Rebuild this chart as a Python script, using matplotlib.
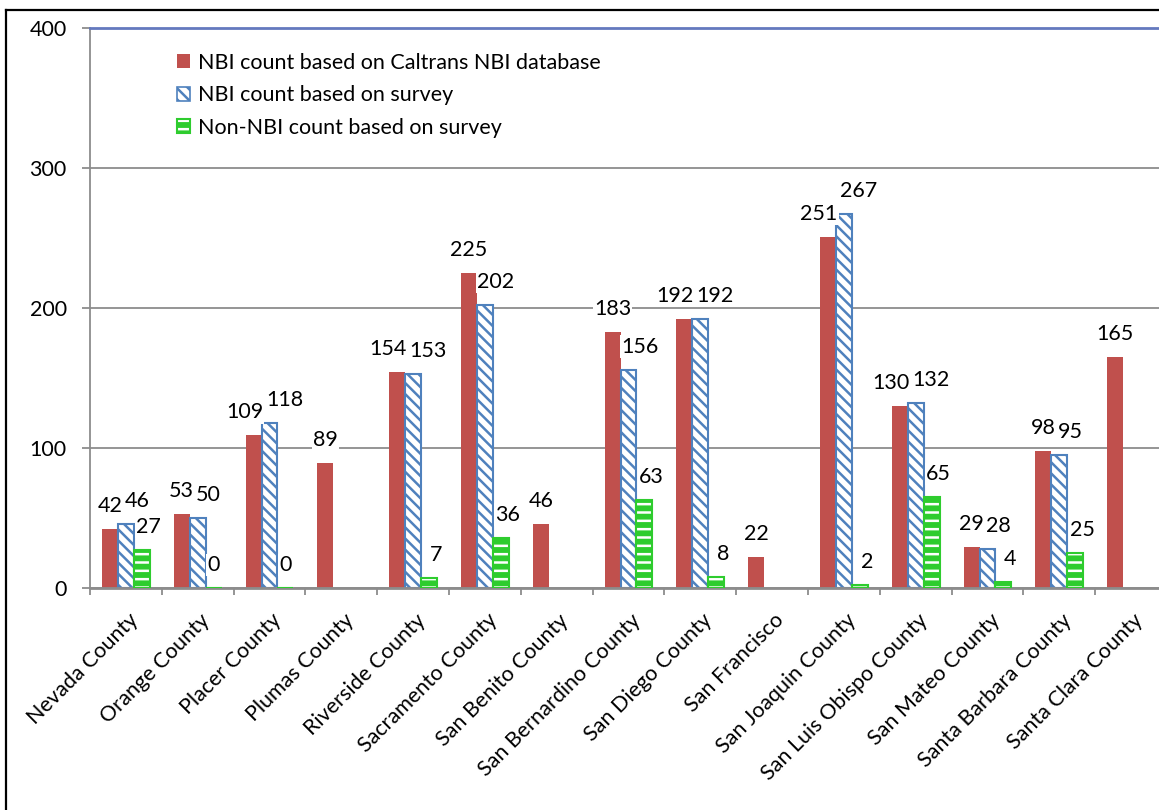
import numpy as np
import matplotlib.pyplot as plt
import matplotlib.transforms as mtrans
from matplotlib.patches import Patch
from matplotlib.lines import Line2D

plt.rcParams['font.family'] = ['Lato', 'DejaVu Sans']
plt.rcParams['hatch.linewidth'] = 1.8

counties = ["Nevada County", "Orange County", "Placer County", "Plumas County",
            "Riverside County", "Sacramento County", "San Benito County",
            "San Bernardino County", "San Diego County", "San Francisco",
            "San Joaquin County", "San Luis Obispo County", "San Mateo County",
            "Santa Barbara County", "Santa Clara County"]
nan = np.nan
caltrans_nbi = [42, 53, 109, 89, 154, 225, 46, 183, 192, 22, 251, 130, 29, 98, 165]
survey_nbi = [46, 50, 118, nan, 153, 202, nan, 156, 192, nan, 267, 132, 28, 95, nan]
survey_non_nbi = [27, 0, 0, nan, 7, 36, nan, 63, 8, nan, 2, 65, 4, 25, nan]

legend_labels = ["NBI count based on Caltrans NBI database",
                 "NBI count based on survey",
                 "Non-NBI count based on survey"]

RED = "#C0504D"
BLUE = "#4F81BD"
GREEN = "#2ECC2E"
GRID = "#8C8C8C"
FS = 15.5

W, H = 1159, 810
fig = plt.figure(figsize=(W / 100, H / 100), dpi=100)
ax = fig.add_axes([90 / W, (H - 588) / H, (1167 - 90) / W, (588 - 28) / H])

x = np.arange(len(counties))
bw = 0.222

ax.bar(x - bw, caltrans_nbi, bw, color=RED, zorder=2)
ax.bar(x, survey_nbi, bw, facecolor="white", edgecolor=BLUE, hatch="\\\\\\",
       linewidth=1.5, zorder=2)
# green bars: white stripes on green, then a green outline on top
ax.bar(x + bw, survey_non_nbi, bw, facecolor=GREEN, edgecolor="white",
       hatch="--", linewidth=0, zorder=2)
ax.bar(x + bw, survey_non_nbi, bw, fill=False, edgecolor=GREEN,
       linewidth=1.5, zorder=3)


def put_label(xpos, v, dx):
    ax.annotate(f"{v:.0f}", (xpos, v), xytext=(dx, 23),
                textcoords="offset pixels", ha="center", va="center",
                fontsize=FS, zorder=5,
                bbox=dict(facecolor="white", edgecolor="none", pad=1))


# value labels; red/blue pairs at nearly equal height are spread apart
for xi, r, b, g in zip(x, caltrans_nbi, survey_nbi, survey_non_nbi):
    dx_red, dx_blue = 0, 11
    if not np.isnan(b) and r >= 100 and abs(r - b) * 1.4 < 25:
        dx_red, dx_blue = -9, 15
    put_label(xi - bw, r, dx_red)
    if not np.isnan(b):
        put_label(xi, b, dx_blue)
    if not np.isnan(g):
        put_label(xi + bw, g, 7 if g > 0 else 0)

ax.set_xlim(-0.5, len(counties) - 0.5)
ax.set_ylim(0, 400)
ax.set_yticks([0, 100, 200, 300, 400])
ax.set_axisbelow(True)
ax.yaxis.grid(True, color=GRID, linewidth=1.3)
ax.tick_params(axis="y", length=5.8, width=1.3, color=GRID, pad=11,
               labelsize=FS)

ax.set_xticks(x)
ax.set_xticklabels(counties, rotation=45, ha="right", va="center",
                   rotation_mode="anchor", fontsize=FS)
ax.set_xticks(np.arange(-0.5, len(counties), 1), minor=True)
ax.tick_params(axis="x", which="major", length=0, pad=21)
ax.tick_params(axis="x", which="minor", length=5, width=1.3, color=GRID)
shift_r = mtrans.ScaledTranslation(0.09, 0, fig.dpi_scale_trans)
for lbl in ax.get_xticklabels():
    lbl.set_transform(lbl.get_transform() + shift_r)

ax.spines["right"].set_visible(False)
ax.spines["left"].set_color(GRID)
ax.spines["left"].set_linewidth(1.3)
ax.spines["bottom"].set_color(GRID)
ax.spines["bottom"].set_linewidth(2)
ax.spines["top"].set_color("#6479BE")
ax.spines["top"].set_linewidth(2)

handles = [Patch(facecolor=RED),
           Patch(facecolor="white", edgecolor=BLUE, hatch="\\\\\\", linewidth=1.2),
           (Patch(facecolor=GREEN, edgecolor="white", hatch="--", linewidth=0),
            Patch(fill=False, edgecolor=GREEN, linewidth=1.5))]
fig.legend(handles, legend_labels, loc="upper left",
           bbox_to_anchor=(177 / W, 1 - 53 / H), frameon=False,
           fontsize=FS, handlelength=0.62, handleheight=0.62,
           handletextpad=0.35, labelspacing=0.58, borderpad=0,
           borderaxespad=0)

# chart border along top and left edges
fig.add_artist(Line2D([6 / W, 6 / W], [0, 1 - 9.5 / H], transform=fig.transFigure,
                      color="black", linewidth=1.6))
fig.add_artist(Line2D([6 / W, 1], [1 - 9.5 / H, 1 - 9.5 / H],
                      transform=fig.transFigure, color="black", linewidth=1.6))

fig.savefig("out.png", dpi=100)
